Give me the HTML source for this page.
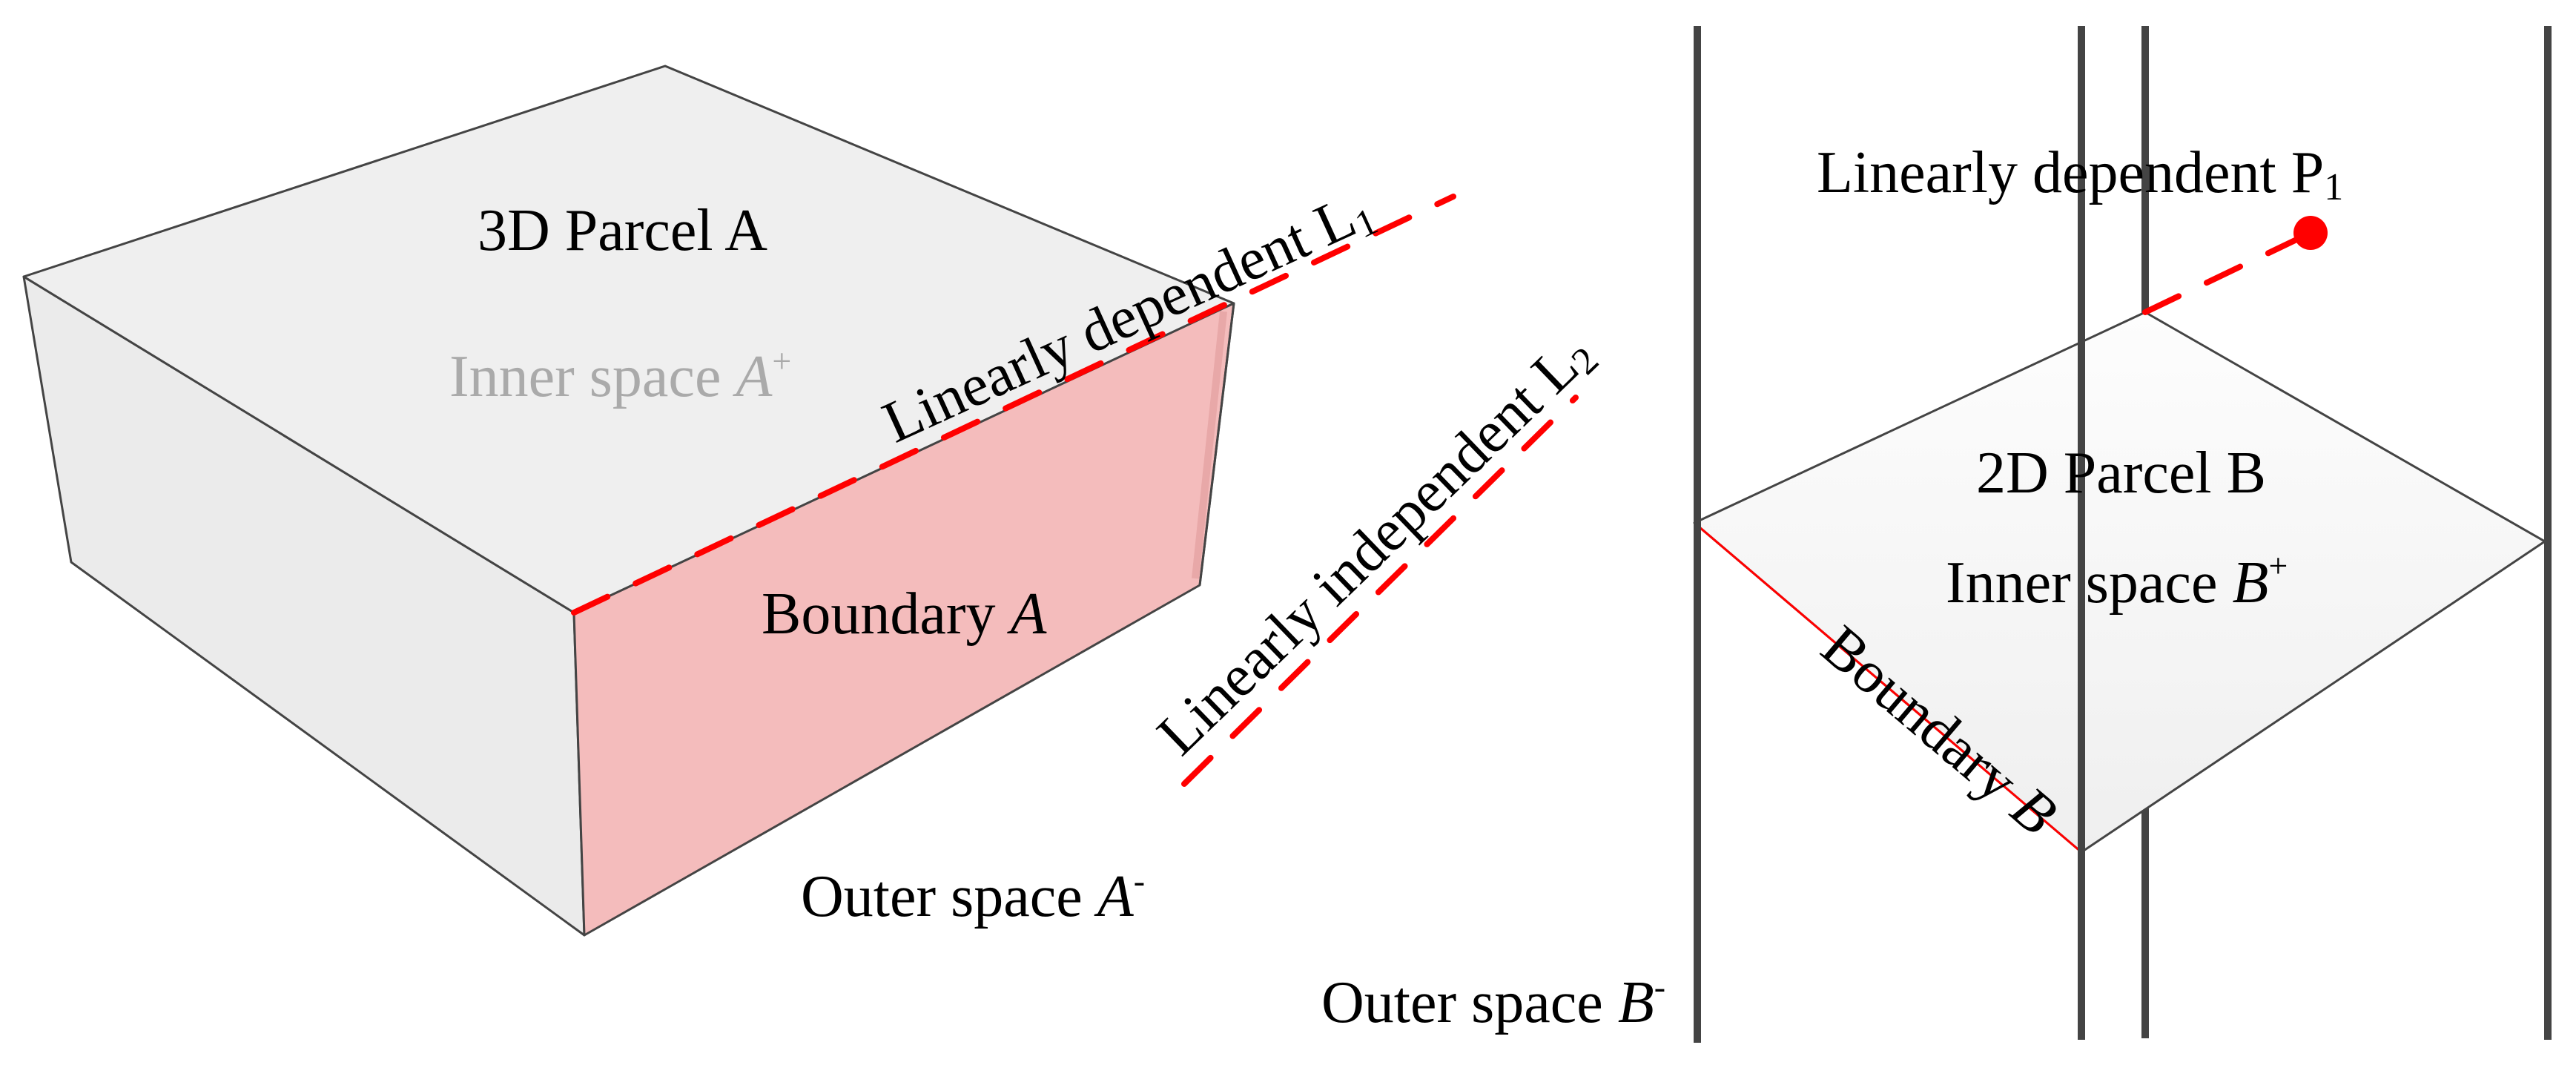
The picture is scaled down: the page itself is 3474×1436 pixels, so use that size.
<!DOCTYPE html>
<html><head><meta charset="utf-8"><style>
html,body{margin:0;padding:0;background:#fff}
svg{display:block}
text{font-family:"Liberation Serif",serif;font-size:80px;fill:#000}
</style></head><body>
<svg width="3474" height="1436" viewBox="0 0 3474 1436" xmlns="http://www.w3.org/2000/svg">
<defs>
<linearGradient id="dg" x1="0" y1="0" x2="0" y2="1"><stop offset="0" stop-color="#fdfdfd"/><stop offset="1" stop-color="#efefef"/></linearGradient>
</defs>
<!-- Box A -->
<polygon points="32,373 774,826 788,1261 96,758" fill="#ebebeb" stroke="#444" stroke-width="3" stroke-linejoin="round"/>
<polygon points="897,89 1664,409 774,826 32,373" fill="#efefef" stroke="#444" stroke-width="3" stroke-linejoin="round"/>
<polygon points="774,826 1664,409 1618,789 788,1261" fill="#f4bcbc" stroke="#444" stroke-width="3" stroke-linejoin="round"/>
<line x1="1650" y1="420" x2="1612" y2="780" stroke="#e8a8a8" stroke-width="10"/>
<line x1="1664" y1="409" x2="1618" y2="789" stroke="#444" stroke-width="3"/>
<!-- L1 -->
<line x1="774" y1="826" x2="1960" y2="265" stroke="#f00" stroke-width="8" stroke-dasharray="50 42" stroke-linecap="round"/>
<!-- L2 -->
<line x1="1597" y1="1057" x2="2125" y2="536" stroke="#f00" stroke-width="8" stroke-dasharray="50 42" stroke-linecap="round"/>
<text x="644" y="337">3D Parcel A</text>
<text x="606" y="534" style="fill:#aaa">Inner space <tspan font-style="italic" style="fill:#aaa">A</tspan><tspan font-size="46" dy="-32" style="fill:#aaa">+</tspan></text>
<text x="1027" y="854">Boundary <tspan font-style="italic">A</tspan></text>
<text x="1080" y="1235">Outer space <tspan font-style="italic">A</tspan><tspan font-size="46" dy="-32">-</tspan></text>
<text transform="translate(1207,598) rotate(-24.5)">Linearly dependent L<tspan font-size="52" dy="10">1</tspan></text>
<text transform="translate(1593,1022) rotate(-44)">Linearly independent L<tspan font-size="52" dy="10">2</tspan></text>
<!-- Right panel -->
<line x1="2289" y1="35" x2="2289" y2="1406" stroke="#444" stroke-width="10"/>
<line x1="2893" y1="35" x2="2893" y2="1400" stroke="#444" stroke-width="10"/>
<polygon points="2893,421 3432,730 2807,1149 2285,705" fill="url(#dg)" stroke="#444" stroke-width="3" stroke-linejoin="round"/>
<line x1="2285" y1="705" x2="2807" y2="1149" stroke="#f00" stroke-width="3"/>
<line x1="2289" y1="35" x2="2289" y2="1406" stroke="#444" stroke-width="10"/>
<line x1="2807" y1="35" x2="2807" y2="1402" stroke="#444" stroke-width="10"/>
<line x1="3436" y1="35" x2="3436" y2="1402" stroke="#444" stroke-width="10"/>
<line x1="2893" y1="421" x2="3116" y2="314" stroke="#f00" stroke-width="8" stroke-dasharray="50 42" stroke-linecap="round"/>
<circle cx="3116" cy="314" r="23" fill="#f00"/>
<text x="2450" y="259">Linearly dependent P<tspan font-size="52" dy="10">1</tspan></text>
<text x="2665" y="664">2D Parcel B</text>
<text x="2624" y="812">Inner space <tspan font-style="italic">B</tspan><tspan font-size="46" dy="-34">+</tspan></text>
<text transform="translate(2615,985) rotate(40.4)" text-anchor="middle" dominant-baseline="central">Boundary <tspan font-style="italic">B</tspan></text>
<text x="1782" y="1378">Outer space <tspan font-style="italic">B</tspan><tspan font-size="46" dy="-32">-</tspan></text>
</svg>
</body></html>
